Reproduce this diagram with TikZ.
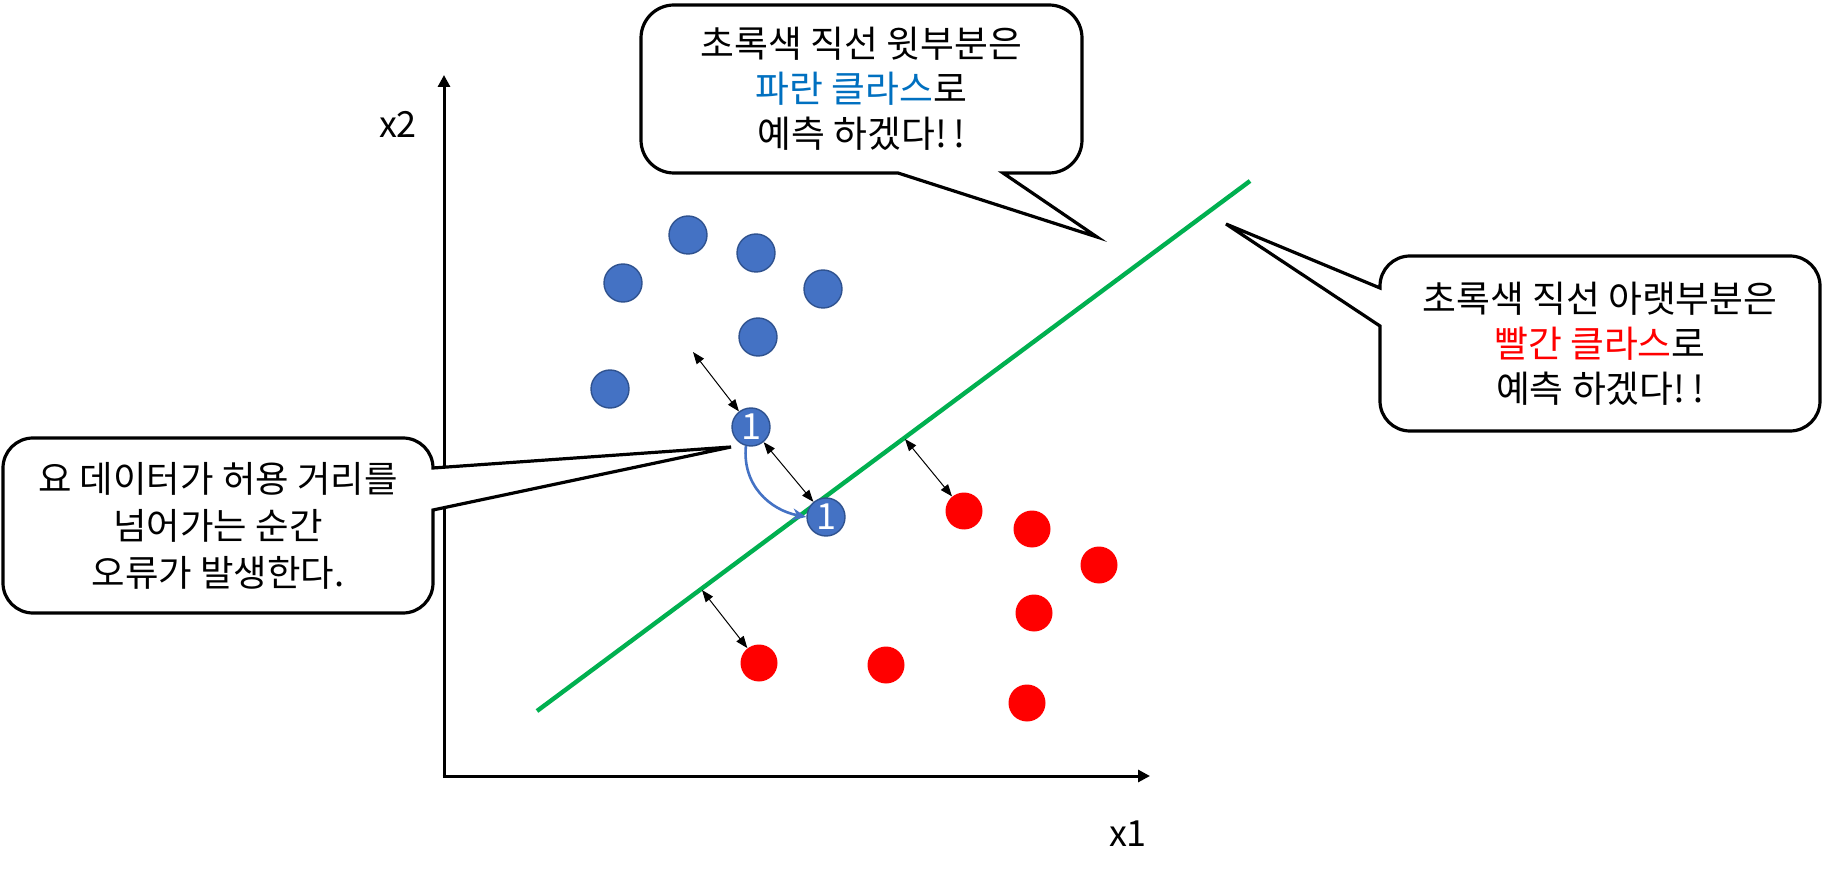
\documentclass[tikz,border=0pt]{standalone}
\usepackage{fontspec}
\setmainfont{Noto Sans CJK KR}
\usetikzlibrary{arrows.meta}
\definecolor{dotblue}{HTML}{4472C4}
\definecolor{dotedge}{HTML}{2F528F}
\definecolor{txtblue}{HTML}{0070C0}
\definecolor{myred}{HTML}{FF0000}
\definecolor{lineg}{HTML}{00B050}
\newcommand{\bang}{!\hspace{0.18em}!}
\tikzset{
  bdot/.style={circle, fill=dotblue, draw=dotedge, line width=0.7pt, minimum size=19pt, inner sep=0pt},
  numdot/.style={bdot, text=white, font=\fontsize{18pt}{18pt}\selectfont},
  rdot/.style={circle, fill=myred, minimum size=18.5pt, inner sep=0pt},
  axisline/.style={line width=1.5pt, -{Triangle[length=6pt,width=6pt]}},
  dbl/.style={line width=0.5pt, {Triangle[length=6pt,width=4.5pt]}-{Triangle[length=6pt,width=4.5pt]}},
  callout/.style={draw=black, line width=1.6pt, fill=white, line join=miter},
  ctext/.style={align=center, font=\fontsize{18.4pt}{22.5pt}\selectfont, inner sep=0pt},
  axlabel/.style={font=\fontsize{18pt}{18pt}\selectfont, inner sep=0pt}
}
\begin{document}
\begin{tikzpicture}[x=0.5pt,y=-0.5pt]
\useasboundingbox (0,0) rectangle (1822,877);

% axes
\coordinate (o) at (444,776);
\coordinate (ytop) at (444,75);
\coordinate (xend) at (1150,776);
\draw[axisline] (o) -- (ytop);
\draw[axisline] ([xshift=-0.75pt]o) -- (xend);
\node[axlabel] (x2) at (398,124) {x2};
\node[axlabel] (x1) at (1128,834) {x1};

% green boundary
\coordinate (g1) at (537,711);
\coordinate (g2) at (1250,181);
\draw[lineg, line width=2.2pt] (g1) -- (g2);

% blue dots
\node[bdot] (b1) at (688,235) {};
\node[bdot] (b2) at (756,253) {};
\node[bdot] (b3) at (623,283) {};
\node[bdot] (b4) at (823,289) {};
\node[bdot] (b5) at (758,337) {};
\node[bdot] (b6) at (610,389) {};
\node[numdot] (b7) at (751,427) {1};
\node[numdot] (b8) at (826,517) {1};

% red dots
\node[rdot] (r1) at (964,511) {};
\node[rdot] (r2) at (1032,529) {};
\node[rdot] (r3) at (1099,565) {};
\node[rdot] (r4) at (1034,613) {};
\node[rdot] (r5) at (886,665) {};
\node[rdot] (r6) at (1027,703) {};
\node[rdot] (r7) at (759,663) {};

% distance arrows
\coordinate (a1) at (693,352);
\coordinate (a3) at (905,439);
\coordinate (a4) at (702,590);
\draw[dbl] (a1) -- (b7);
\draw[dbl] (b7) -- (b8);
\draw[dbl] (a3) -- (r1);
\draw[dbl] (a4) -- (r7);

% blue move arrow
\draw[dotblue, line width=1.3pt, -{Stealth[length=7pt,width=6pt]}]
  (b7.255) .. controls (742,485) and (770,510) .. (b8.west);

% top callout
\coordinate (t1) at (1097,237);
\draw[callout] (674,5) -- (1049,5) arc[start angle=90,end angle=0,radius=16.5pt]
  -- (1082,140) arc[start angle=0,end angle=-90,radius=16.5pt]
  -- (1003,173) -- (t1) -- (898,173) -- (674,173)
  arc[start angle=-90,end angle=-180,radius=16.5pt]
  -- (641,38) arc[start angle=180,end angle=90,radius=16.5pt] -- cycle;
\node[ctext] (ttop) at (861.5,89) {초록색 직선 윗부분은\\{\color{txtblue}파란 클라스}로\\예측 하겠다\bang};

% right callout
\coordinate (t2) at (1226,224);
\draw[callout] (1410,256) -- (1790,256) arc[start angle=90,end angle=0,radius=15pt]
  -- (1820,401) arc[start angle=0,end angle=-90,radius=15pt]
  -- (1410,431) arc[start angle=-90,end angle=-180,radius=15pt]
  -- (1380,326) -- (t2) -- (1380,288) -- (1380,286)
  arc[start angle=180,end angle=90,radius=15pt] -- cycle;
\node[ctext] (tright) at (1600,343.5) {초록색 직선 아랫부분은\\{\color{myred}빨간 클라스}로\\예측 하겠다\bang};

% left callout
\coordinate (t3) at (731,447);
\draw[callout] (33,438) -- (403,438) arc[start angle=90,end angle=0,radius=15pt]
  -- (t3) -- (433,510) -- (433,583) arc[start angle=0,end angle=-90,radius=15pt]
  -- (33,613) arc[start angle=-90,end angle=-180,radius=15pt]
  -- (3,468) arc[start angle=180,end angle=90,radius=15pt] -- cycle;
\node[ctext, font=\fontsize{18.2pt}{23.5pt}\selectfont] (tleft) at (218,526) {요 데이터가 허용 거리를\\넘어가는 순간\\오류가 발생한다.};
\end{tikzpicture}
\end{document}
